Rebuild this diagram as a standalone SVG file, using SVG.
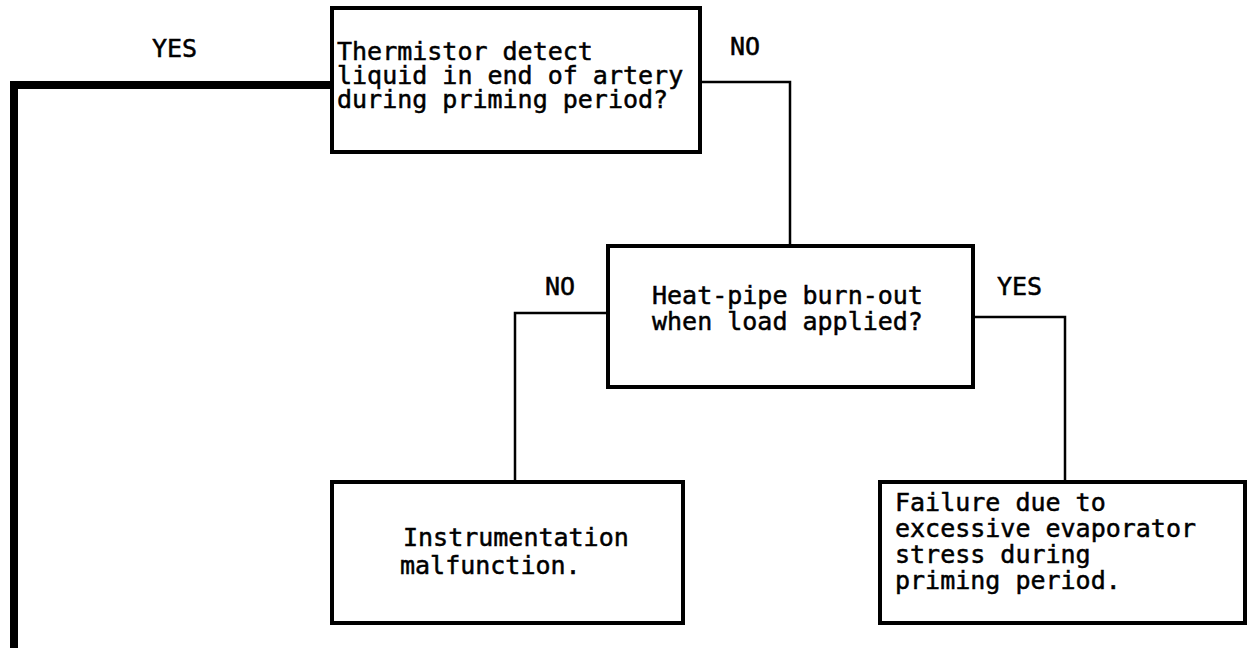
<svg xmlns="http://www.w3.org/2000/svg" width="1247" height="648" viewBox="0 0 1247 648">
<style>
.box{fill:#fff;stroke:#000;stroke-width:4}
.t{font-family:"DejaVu Sans Mono","Liberation Mono",monospace;font-size:25px;fill:#000;stroke:#000;stroke-width:0.5}
.c{fill:none;stroke:#000;stroke-width:2.5}
.ct{fill:none;stroke:#000;stroke-width:8}
</style>
<rect width="1247" height="648" fill="#fff"/>
<g id="connectors">
<polyline class="ct" points="332,85 14,85 14,648"/>
<polyline class="c" points="700,82 790,82 790,246"/>
<polyline class="c" points="608,313 515,313 515,482"/>
<polyline class="c" points="973,317 1065,317 1065,482"/>
<text class="t" x="152" y="57">YES</text>
<text class="t" x="730" y="55">NO</text>
<text class="t" x="545" y="295">NO</text>
<text class="t" x="997" y="295">YES</text>
</g>
<g id="q1">
<rect class="box" x="332" y="8" width="368" height="144"/>
<text class="t"><tspan x="337" y="60">Thermistor detect</tspan><tspan x="337" y="84">liquid in end of artery</tspan><tspan x="337" y="108">during priming period?</tspan></text>
</g>
<g id="q2">
<rect class="box" x="608" y="246" width="365" height="141"/>
<text class="t"><tspan x="652" y="304">Heat-pipe burn-out</tspan><tspan x="652" y="330">when load applied?</tspan></text>
</g>
<g id="r1">
<rect class="box" x="332" y="482" width="351" height="141"/>
<text class="t"><tspan x="403" y="546">Instrumentation</tspan><tspan x="400" y="574">malfunction.</tspan></text>
</g>
<g id="r2">
<rect class="box" x="880" y="482" width="365" height="141"/>
<text class="t"><tspan x="895" y="511">Failure due to</tspan><tspan x="895" y="537">excessive evaporator</tspan><tspan x="895" y="563">stress during</tspan><tspan x="895" y="589">priming period.</tspan></text>
</g>
</svg>
